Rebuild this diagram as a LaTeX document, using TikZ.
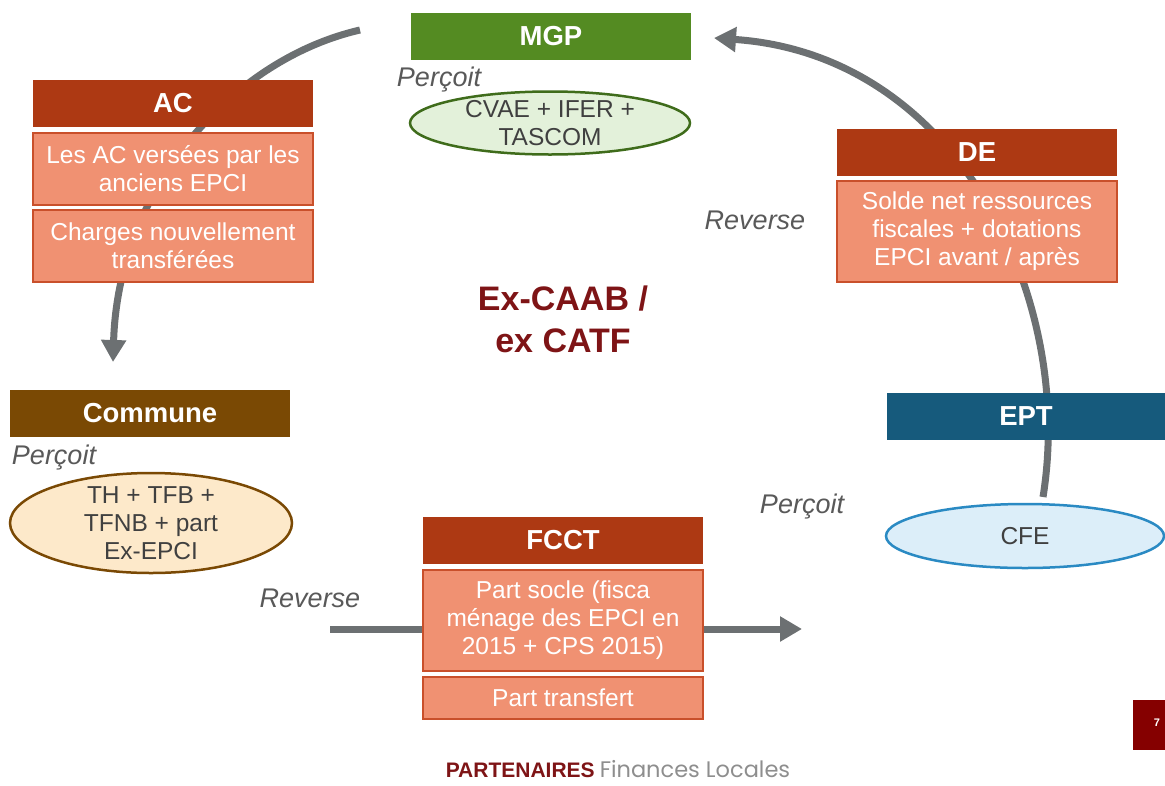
\documentclass[tikz,border=0pt]{standalone}
\usepackage{fontspec}
\setmainfont{Liberation Sans}
\newfontfamily\popfont{Poppins}
\usetikzlibrary{shapes.geometric,arrows.meta}
\definecolor{hdrred}{HTML}{AD3913}
\definecolor{salmon}{HTML}{F09172}
\definecolor{salmonedge}{HTML}{C9502B}
\definecolor{mgpgreen}{HTML}{548B22}
\definecolor{combrown}{HTML}{7A4904}
\definecolor{eptblue}{HTML}{165A7C}
\definecolor{flowgray}{HTML}{6C7072}
\definecolor{labelgray}{HTML}{595959}
\definecolor{ellgray}{HTML}{404040}
\definecolor{darkred}{HTML}{7E1416}
\definecolor{pagered}{HTML}{850000}
\definecolor{greenfill}{HTML}{E3F1DA}
\definecolor{greenedge}{HTML}{3F6C1B}
\definecolor{peachfill}{HTML}{FDE9CA}
\definecolor{bluefill}{HTML}{DCEEF9}
\definecolor{blueedge}{HTML}{2A8AC3}
\definecolor{footgray}{HTML}{8E8E8E}
\begin{document}
\begin{tikzpicture}[x=1pt,y=-1pt,
  hdr/.style={rectangle, fill=hdrred, text=white, font=\fontsize{27.5}{30}\selectfont\bfseries,
    minimum width=280pt, minimum height=47pt, inner sep=0pt},
  bodybox/.style={rectangle, fill=salmon, draw=salmonedge, line width=1.5pt, text=white,
    font=\fontsize{24.5}{28}\selectfont, minimum width=280pt, align=center, inner sep=0pt},
  lbl/.style={font=\fontsize{27}{30}\selectfont\itshape, text=labelgray, inner sep=0pt},
  ellshape/.style={ellipse, line width=2.5pt, inner sep=0pt},
  etext/.style={font=\fontsize{24.5}{28}\selectfont, text=ellgray, align=center, inner sep=0pt},
  flow/.style={draw=flowgray, line width=7pt, -{Triangle[length=22pt,width=24pt]}}
]
\useasboundingbox (0,0) rectangle (1165,785);

% connectors (behind the boxes)
\coordinate (l1) at (360,30);
\coordinate (l2) at (113,362);
\draw[flow] (l1) .. controls (230,60) and (118,190) .. (l2);
\coordinate (r1) at (1043,497);
\coordinate (r2) at (714,38);
\draw[flow] (r1) .. controls (1075,300) and (960,55) .. (r2);
\coordinate (f1) at (330,629);
\coordinate (f2) at (802,629);
\draw[flow] (f1) -- (f2);

% MGP
\node[hdr, fill=mgpgreen] (mgp) at (551,36.5) {MGP};
\node[lbl] (p1) at (439,80) {Perçoit};
\node[ellshape, draw=greenedge, fill=greenfill, minimum width=280pt, minimum height=63pt] (mgpe) at (550,123) {};
\node[etext] (mgpt) at (mgpe.center) {CVAE + IFER +\\TASCOM};

% AC
\node[hdr] (ac) at (173,103.5) {AC};
\node[bodybox, minimum height=72pt] (ac1) at (173,169) {Les AC versées par les\\anciens EPCI};
\node[bodybox, minimum height=72pt] (ac2) at (173,246) {Charges nouvellement\\transférées};

% DE
\node[hdr] (de) at (977,152.5) {DE};
\node[bodybox, minimum height=101pt] (de1) at (977,231.5) {Solde net ressources\\fiscales + dotations\\EPCI avant / après};
\node[lbl] (rv1) at (755,220) {Reverse};

% centre
\node[font=\fontsize{34}{42}\selectfont\bfseries, text=darkred, align=center, inner sep=0pt] (ctr) at (563,319) {Ex-CAAB /\\ex CATF};

% Commune
\node[hdr, fill=combrown] (com) at (150,413.5) {Commune};
\node[lbl] (p2) at (54,458) {Perçoit};
\node[ellshape, draw=combrown, fill=peachfill, minimum width=282pt, minimum height=100pt] (come) at (151,523) {};
\node[etext] (comt) at (come.center) {TH + TFB +\\TFNB + part\\Ex-EPCI};
\node[lbl] (rv2) at (310,598) {Reverse};

% EPT
\node[hdr, fill=eptblue, minimum width=278pt] (ept) at (1026,416.5) {EPT};
\node[lbl] (p3) at (802,507) {Perçoit};
\node[ellshape, draw=blueedge, fill=bluefill, minimum width=278pt, minimum height=64pt] (epte) at (1025,536) {};
\node[etext] (eptt) at (epte.center) {CFE};

% FCCT
\node[hdr] (fcct) at (563,540.5) {FCCT};
\node[bodybox, minimum height=101pt] (fc1) at (563,620.5) {Part socle (fisca\\ménage des EPCI en\\2015 + CPS 2015)};
\node[bodybox, minimum height=42pt] (fc2) at (563,698) {Part transfert};

% page number
\node[rectangle, fill=pagered, minimum width=32pt, minimum height=50pt, inner sep=0pt] (pg) at (1149,725) {};
\node[text=white, font=\fontsize{11}{12}\selectfont\bfseries, inner sep=0pt] (pgn) at (1157,723) {7};

% footer
\node[inner sep=0pt, anchor=base] (foot) at (618,777) {{\fontsize{21}{24}\selectfont\bfseries\color{darkred}PARTENAIRES}\hspace{5pt}{\popfont\fontsize{22.5}{24}\selectfont\color{footgray}Finances Locales}};
\end{tikzpicture}
\end{document}
